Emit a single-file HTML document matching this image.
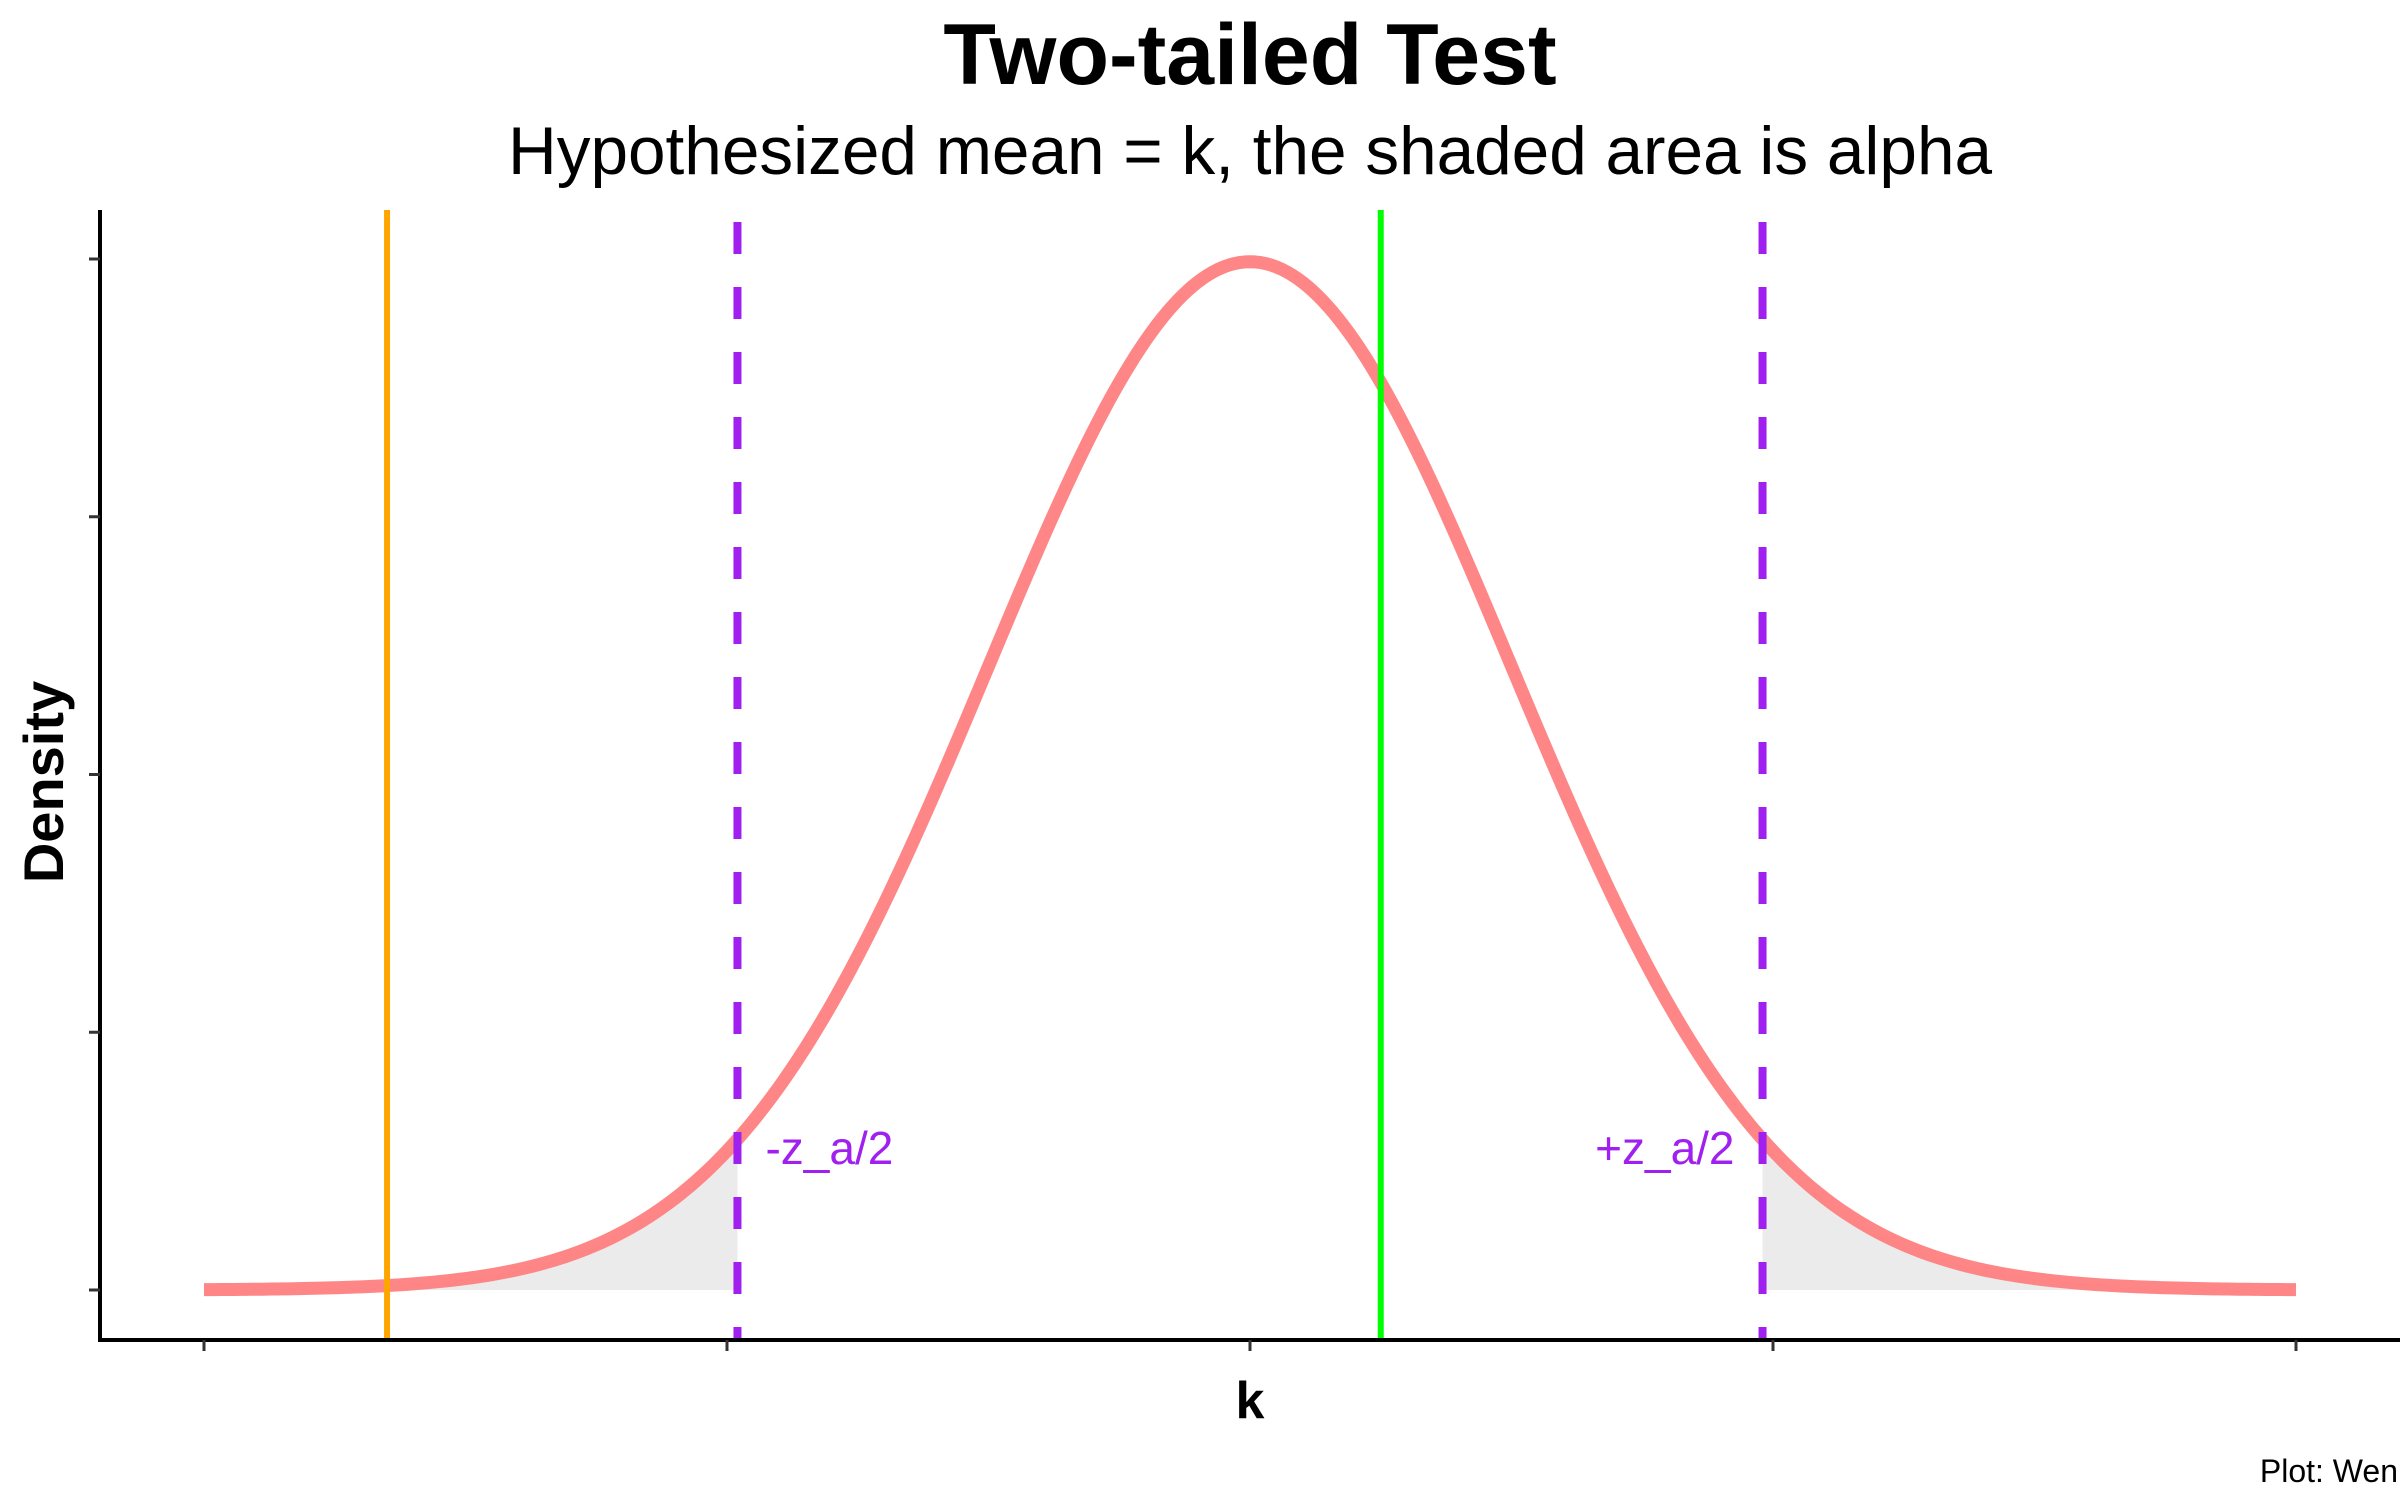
<!DOCTYPE html>
<html><head><meta charset="utf-8"><style>
html,body{margin:0;padding:0;background:#fff;}
svg{display:block;font-family:"Liberation Sans",Arial,sans-serif;}
</style></head><body>
<svg id="chart" width="2400" height="1500" viewBox="0 0 2400 1500">
<text x="1250" y="84" text-anchor="middle" font-size="86" font-weight="bold">Two-tailed Test</text>
<text x="1250" y="174" text-anchor="middle" font-size="67.5">Hypothesized mean = k, the shaded area is alpha</text>
<g id="plot"></g>
<text x="1250" y="1418" text-anchor="middle" font-size="52" font-weight="bold">k</text>
<text transform="translate(63,782) rotate(-90)" text-anchor="middle" font-size="56" font-weight="bold">Density</text>
<text x="2398" y="1482" text-anchor="end" font-size="32">Plot: Wen</text>
</svg>
<script>
const xTicks = [-4, -2, 0, 2, 4];
const yTicks = [0, 0.1, 0.2, 0.3, 0.4];
const distMean = [0];
const distSd = [1];
const xRange = [-4, 4];
const criticalZ = [-1.96, 1.96];
const criticalLabels = ["-z_a/2", "+z_a/2"];
const observedLow = [-3.3];
const observedHigh = [0.5];

const NS = "http://www.w3.org/2000/svg";
const plot = document.getElementById("plot");
const X = v => 1250 + v * 261.5;
const Y = v => 1290 - v * 2577.5;
const axL = 100, axB = 1340, axT = 210, axR = 2400;
function mk(tag, attrs) { const e = document.createElementNS(NS, tag); for (const k in attrs) e.setAttribute(k, attrs[k]); plot.appendChild(e); return e; }
function pdf(x) { const m = distMean[0], s = distSd[0]; return Math.exp(-0.5 * ((x - m) / s) ** 2) / (s * Math.sqrt(2 * Math.PI)); }

[[xRange[0], criticalZ[0]], [criticalZ[1], xRange[1]]].forEach((r, i) => {
  let d = `M${X(r[0])},${Y(0)}`;
  for (let k = 0; k <= 100; k++) { const x = r[0] + (r[1] - r[0]) * k / 100; d += ` L${X(x)},${Y(pdf(x))}`; }
  d += ` L${X(r[1])},${Y(0)} Z`;
  const p = mk("path", { d: d, fill: "#ebebeb" });
  
  
});

let cd = "";
for (let k = 0; k <= 400; k++) { const x = xRange[0] + (xRange[1] - xRange[0]) * k / 400; cd += (k ? " L" : "M") + X(x) + "," + Y(pdf(x)); }
const curve = mk("path", { d: cd, fill: "none", stroke: "#ff7f7f", "stroke-width": 13, "stroke-opacity": 0.95, "stroke-linejoin": "round" });



const ol = mk("line", { x1: X(observedLow[0]), x2: X(observedLow[0]), y1: axT, y2: axB, stroke: "#ffa500", "stroke-width": 6 });


const gl = mk("line", { x1: X(observedHigh[0]), x2: X(observedHigh[0]), y1: axT, y2: axB, stroke: "#00ff00", "stroke-width": 6 });


criticalZ.forEach((z, i) => {
  const l = mk("line", { x1: X(z), x2: X(z), y1: axT + 12, y2: axB, stroke: "#a020f0", "stroke-width": 8, "stroke-dasharray": "32 33" });
  
  
  const t = mk("text", { x: X(z) + (i === 0 ? 28 : -28), y: 1164, "font-size": 46, fill: "#a020f0", "text-anchor": i === 0 ? "start" : "end" });
  t.textContent = criticalLabels[i];
  
  
});

const ya = mk("line", { x1: axL, x2: axL, y1: axT, y2: axB + 2, stroke: "#000", "stroke-width": 4 });


const xa = mk("line", { x1: axL - 2, x2: axR, y1: axB, y2: axB, stroke: "#000", "stroke-width": 4 });


xTicks.forEach(v => {
  const t = mk("line", { x1: X(v), x2: X(v), y1: axB, y2: axB + 11, stroke: "#333", "stroke-width": 3 });
  
  
});
yTicks.forEach(v => {
  const t = mk("line", { x1: axL - 11, x2: axL, y1: Y(v), y2: Y(v), stroke: "#333", "stroke-width": 3 });
  
  
});
</script>
</body></html>
